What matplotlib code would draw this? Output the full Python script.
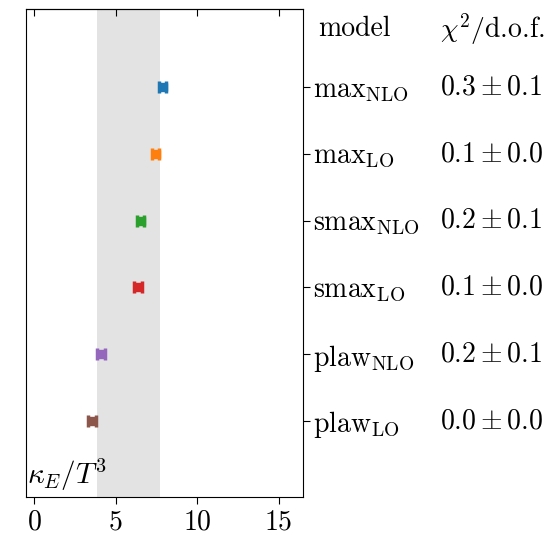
import numpy as np
import matplotlib
matplotlib.use("Agg")
import matplotlib.pyplot as plt

plt.rcParams["mathtext.fontset"] = "cm"
plt.rcParams["font.family"] = "serif"
plt.rcParams["font.serif"] = ["cmr10"]
plt.rcParams["axes.formatter.use_mathtext"] = True

models = [r"$\mathrm{max}_\mathrm{NLO}$", r"$\mathrm{max}_\mathrm{LO}$",
          r"$\mathrm{smax}_\mathrm{NLO}$", r"$\mathrm{smax}_\mathrm{LO}$",
          r"$\mathrm{plaw}_\mathrm{NLO}$", r"$\mathrm{plaw}_\mathrm{LO}$"]
kappa = [7.9, 7.47, 6.55, 6.37, 4.1, 3.55]
kappa_err = [0.22, 0.22, 0.22, 0.22, 0.22, 0.22]
chi2 = [r"$0.3\pm0.1$", r"$0.1\pm0.0$", r"$0.2\pm0.1$",
        r"$0.1\pm0.0$", r"$0.2\pm0.1$", r"$0.0\pm0.0$"]
band = (3.86, 7.72)
colors = ["C0", "C1", "C2", "C3", "C4", "C5"]

fig = plt.figure(figsize=(5.59, 5.47), dpi=100)
ax = fig.add_axes([0.0465, 0.0914, 0.4955, 0.8921])

ypos = np.arange(len(models))[::-1] + 1
ax.axvspan(band[0], band[1], color="0.89", lw=0, zorder=0)
for i in range(len(models)):
    ax.errorbar(kappa[i], ypos[i], xerr=kappa_err[i], fmt="s", color=colors[i],
                ms=5.5, elinewidth=2, capsize=4.3, capthick=2.5)

ax.set_xlim(-0.5, 16.5)
ax.set_ylim(-0.14, 7.17)
ax.set_xticks([0, 5, 10, 15])
ax.tick_params(axis="x", labelsize=20, direction="out", length=5)
ax.yaxis.tick_right()
ax.set_yticks(ypos)
ax.set_yticklabels(models, fontsize=20)
ax.tick_params(axis="y", direction="out", length=5, pad=2)
top = ax.secondary_xaxis("top")
top.set_xticks([0, 5, 10, 15])
top.tick_params(direction="in", length=5, labeltop=False)

ax.text(0.005, 0.008, r"$\kappa_E/T^3$", transform=ax.transAxes,
        fontsize=21, ha="left", va="bottom")
tr = ax.get_yaxis_transform()
ax.text(1.055, 6.87, "model", transform=tr, fontsize=20, va="center", clip_on=False)
ax.text(1.495, 6.87, r"$\chi^2/$d.o.f.", transform=tr, fontsize=20,
        va="center", clip_on=False)
for i in range(len(models)):
    ax.text(1.495, ypos[i], chi2[i], transform=tr, fontsize=20,
            va="center", clip_on=False)

fig.savefig("out.png", dpi=100)
